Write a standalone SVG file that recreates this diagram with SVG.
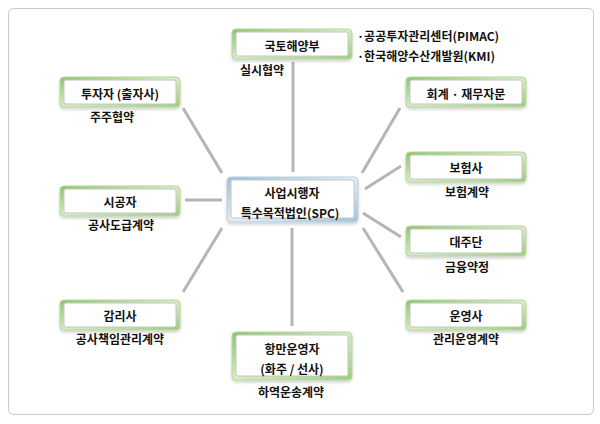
<svg xmlns="http://www.w3.org/2000/svg" width="600" height="424" viewBox="0 0 600 424">
<defs>
<linearGradient id="gb" x1="0" y1="0" x2="1" y2="1">
<stop offset="0" stop-color="#8cc46a"/>
<stop offset="0.5" stop-color="#d8ecc8"/>
<stop offset="1" stop-color="#9ccc7c"/>
</linearGradient>
<linearGradient id="bb" x1="0" y1="0" x2="1" y2="1">
<stop offset="0" stop-color="#9dbfd8"/>
<stop offset="0.5" stop-color="#e4eef6"/>
<stop offset="1" stop-color="#a4c2da"/>
</linearGradient>
<filter id="sh" x="-10%" y="-10%" width="120%" height="130%">
<feDropShadow dx="0" dy="2" stdDeviation="1.5" flood-color="#000" flood-opacity="0.18"/>
</filter>
</defs>
<style>
text{font-family:"Noto Sans CJK KR","Liberation Sans",sans-serif;font-size:12px;font-weight:bold;fill:#111;text-anchor:middle;dominant-baseline:central}
.o{fill:url(#gb);stroke:#b4d89c;stroke-width:1;filter:url(#sh)}
.ob{fill:url(#bb);stroke:#b8cfe0;stroke-width:1;filter:url(#sh)}
.i{fill:#fff;stroke:#c4c4c4;stroke-width:1}
.c line{stroke:#b5b5b5;stroke-width:3}
.s{text-anchor:start}
</style>
<rect x="8.5" y="8.5" width="585" height="406" rx="5" fill="#fff" stroke="#c8c8c8"/>
<g class="c" id="connectors">
<line x1="293" y1="62" x2="293" y2="172"/>
<line x1="183" y1="108" x2="222" y2="173"/>
<line x1="400" y1="108" x2="362" y2="173"/>
<line x1="401" y1="166" x2="365" y2="189"/>
<line x1="185" y1="200" x2="222" y2="200"/>
<line x1="363" y1="213" x2="401" y2="237"/>
<line x1="363" y1="228" x2="403" y2="292"/>
<line x1="222" y1="228" x2="183" y2="292"/>
<line x1="292" y1="228" x2="292" y2="326"/>
</g>
<g id="n-molit">
<rect class="o" x="232" y="29" width="120" height="30" rx="4"/>
<rect class="i" x="236" y="32" width="112" height="24" rx="2"/>
<text x="292" y="45">국토해양부</text>
<text x="262" y="69">실시협약</text>
<text class="s" x="357" y="35">·공공투자관리센터(PIMAC)</text>
<text class="s" x="357" y="55">·한국해양수산개발원(KMI)</text>
</g>
<g id="n-investor">
<rect class="o" x="60" y="77" width="120" height="30" rx="4"/>
<rect class="i" x="64" y="80" width="112" height="24" rx="2"/>
<text x="120" y="93">투자자 (출자사)</text>
<text x="112" y="116">주주협약</text>
</g>
<g id="n-account">
<rect class="o" x="406" y="77" width="120" height="30" rx="4"/>
<rect class="i" x="410" y="80" width="112" height="24" rx="2"/>
<text x="466" y="93">회계 · 재무자문</text>
</g>
<g id="n-insurer">
<rect class="o" x="406" y="152" width="120" height="30" rx="4"/>
<rect class="i" x="410" y="155" width="112" height="24" rx="2"/>
<text x="466" y="167">보험사</text>
<text x="467" y="191">보험계약</text>
</g>
<g id="n-spc">
<rect class="ob" x="227" y="177" width="131" height="45" rx="4"/>
<rect class="i" x="231" y="180" width="123" height="38" rx="2"/>
<text x="292" y="192">사업시행자</text>
<text x="290" y="212">특수목적법인(SPC)</text>
</g>
<g id="n-builder">
<rect class="o" x="60" y="186" width="120" height="30" rx="4"/>
<rect class="i" x="64" y="189" width="112" height="24" rx="2"/>
<text x="120" y="201">시공자</text>
<text x="121" y="224">공사도급계약</text>
</g>
<g id="n-lender">
<rect class="o" x="406" y="226" width="120" height="30" rx="4"/>
<rect class="i" x="410" y="229" width="112" height="24" rx="2"/>
<text x="466" y="241">대주단</text>
<text x="467" y="266">금융약정</text>
</g>
<g id="n-supervisor">
<rect class="o" x="60" y="300" width="120" height="30" rx="4"/>
<rect class="i" x="64" y="303" width="112" height="24" rx="2"/>
<text x="120" y="315">감리사</text>
<text x="120" y="338">공사책임관리계약</text>
</g>
<g id="n-operator">
<rect class="o" x="406" y="300" width="120" height="30" rx="4"/>
<rect class="i" x="410" y="303" width="112" height="24" rx="2"/>
<text x="466" y="315">운영사</text>
<text x="466" y="338">관리운영계약</text>
</g>
<g id="n-port">
<rect class="o" x="232" y="332" width="120" height="48" rx="4"/>
<rect class="i" x="236" y="335" width="112" height="41" rx="2"/>
<text x="292" y="348">항만운영자</text>
<text x="292" y="368">(화주 / 선사)</text>
<text x="291" y="391">하역운송계약</text>
</g>
</svg>
